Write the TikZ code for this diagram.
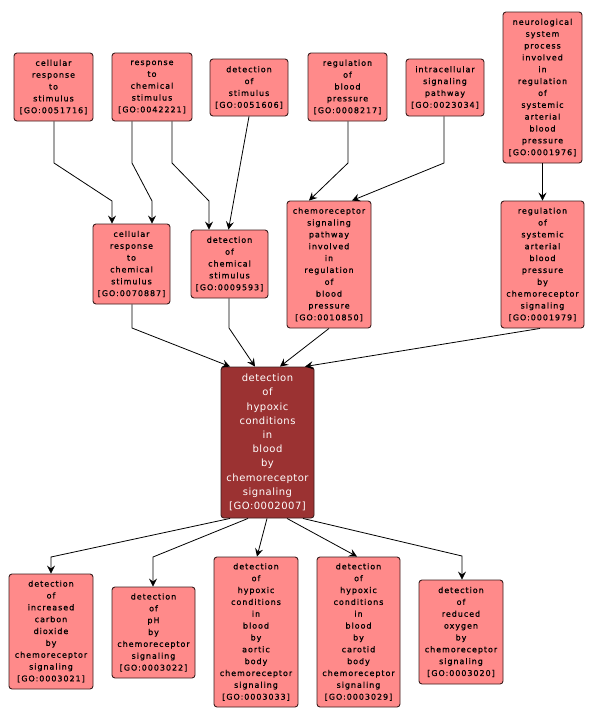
\documentclass[tikz,border=0pt]{standalone}
\usepackage{fontspec}
\usetikzlibrary{arrows.meta}
\newfontfamily\boxfont[LetterSpace=12,FakeBold=0.8]{DejaVu Sans}
\newfontfamily\mainfont[LetterSpace=5]{DejaVu Sans}
\definecolor{gofill}{RGB}{255,138,138}
\definecolor{gomain}{RGB}{155,50,50}
\definecolor{goedge}{RGB}{60,30,30}
\tikzset{
  gobox/.style={draw=goedge, line width=0.9pt, fill=gofill, rounded corners=3pt,
    align=center, inner sep=0pt, text=black,
    font={\boxfont\fontsize{8}{11.85}\selectfont}},
  gomainbox/.style={draw=goedge, line width=0.9pt, fill=gomain, rounded corners=3pt,
    align=center, inner sep=0pt, text=white,
    font={\mainfont\fontsize{10}{14.2}\selectfont}},
  arr/.style={draw=black, line width=0.8pt, -{Stealth[length=8pt,width=8pt,inset=3pt]}}
}
\begin{document}
\begin{tikzpicture}[x=1pt,y=-1pt]
\useasboundingbox[fill=white] (0,0) rectangle (594,720);
% top row
\node[gobox, minimum width=79pt, minimum height=68pt] (A) at (53.5,87) {cellular\\response\\to\\stimulus\\{[GO:0051716]}};
\node[gobox, minimum width=80pt, minimum height=68pt] (B) at (152,87) {response\\to\\chemical\\stimulus\\{[GO:0042221]}};
\node[gobox, minimum width=78pt, minimum height=57pt] (C) at (249,87.5) {detection\\of\\stimulus\\{[GO:0051606]}};
\node[gobox, minimum width=79pt, minimum height=68pt] (D) at (347.5,87) {regulation\\of\\blood\\pressure\\{[GO:0008217]}};
\node[gobox, minimum width=78pt, minimum height=57pt] (E) at (445,87.5) {intracellular\\signaling\\pathway\\{[GO:0023034]}};
\node[gobox, minimum width=79pt, minimum height=151pt] (F) at (542.5,87.5) {neurological\\system\\process\\involved\\in\\regulation\\of\\systemic\\arterial\\blood\\pressure\\{[GO:0001976]}};
% second row
\node[gobox, minimum width=77pt, minimum height=80pt] (G) at (131.5,264) {cellular\\response\\to\\chemical\\stimulus\\{[GO:0070887]}};
\node[gobox, minimum width=77pt, minimum height=68pt] (H) at (229.5,264) {detection\\of\\chemical\\stimulus\\{[GO:0009593]}};
\node[gobox, minimum width=84pt, minimum height=127pt] (I) at (329,264.5) {chemoreceptor\\signaling\\pathway\\involved\\in\\regulation\\of\\blood\\pressure\\{[GO:0010850]}};
\node[gobox, minimum width=83pt, minimum height=127pt] (J) at (542.5,264.5) {regulation\\of\\systemic\\arterial\\blood\\pressure\\by\\chemoreceptor\\signaling\\{[GO:0001979]}};
% main
\node[gomainbox, minimum width=93pt, minimum height=151pt] (M) at (267.5,442.5) {detection\\of\\hypoxic\\conditions\\in\\blood\\by\\chemoreceptor\\signaling\\{[GO:0002007]}};
% bottom row
\node[gobox, minimum width=84pt, minimum height=115pt] (N) at (51,631.5) {detection\\of\\increased\\carbon\\dioxide\\by\\chemoreceptor\\signaling\\{[GO:0003021]}};
\node[gobox, minimum width=83pt, minimum height=91pt] (O) at (153.5,632.5) {detection\\of\\pH\\by\\chemoreceptor\\signaling\\{[GO:0003022]}};
\node[gobox, minimum width=84pt, minimum height=150pt] (P) at (256,632) {detection\\of\\hypoxic\\conditions\\in\\blood\\by\\aortic\\body\\chemoreceptor\\signaling\\{[GO:0003033]}};
\node[gobox, minimum width=83pt, minimum height=150pt] (Q) at (358.5,632) {detection\\of\\hypoxic\\conditions\\in\\blood\\by\\carotid\\body\\chemoreceptor\\signaling\\{[GO:0003029]}};
\node[gobox, minimum width=84pt, minimum height=104pt] (R) at (461,632) {detection\\of\\reduced\\oxygen\\by\\chemoreceptor\\signaling\\{[GO:0003020]}};
% edges top -> second
\draw[arr] ([xshift=0.5pt]A.south) -- (54,163) -- (112,201) -- ([xshift=-19.5pt]G.north);
\draw[arr] ([xshift=-20pt]B.south) -- (132,163) -- (152,201) -- ([xshift=20.5pt]G.north);
\draw[arr] ([xshift=20pt]B.south) -- (172,163) -- (209,201) -- ([xshift=-20.5pt]H.north);
\draw[arr] ([xshift=0pt]C.south) -- ([xshift=-1pt]H.north);
\draw[arr] ([xshift=0.5pt]D.south) -- (348,163) -- ([xshift=-20pt]I.north);
\draw[arr] ([xshift=-1pt]E.south) -- (444,163) -- ([xshift=23pt]I.north);
\draw[arr] (F.south) -- (J.north);
% second -> main
\draw[arr] ([xshift=0.5pt]G.south) -- (132,328) -- ([xshift=-37.5pt]M.north);
\draw[arr] ([xshift=-0.5pt]H.south) -- (229,328) -- ([xshift=-12.5pt]M.north);
\draw[arr] (I.south) -- ([xshift=12.5pt]M.north);
\draw[arr] ([xshift=-2.5pt]J.south) -- ([xshift=37.5pt]M.north);
% main -> bottom
\draw[arr] ([xshift=-37.5pt]M.south) -- (51,557) -- (N.north);
\draw[arr] ([xshift=-19.5pt]M.south) -- (153,557) -- ([xshift=-0.5pt]O.north);
\draw[arr] ([xshift=-0.5pt]M.south) -- ([xshift=1pt]P.north);
\draw[arr] ([xshift=19.5pt]M.south) -- ([xshift=-1.5pt]Q.north);
\draw[arr] ([xshift=35.5pt]M.south) -- (462,556) -- ([xshift=1pt]R.north);
\end{tikzpicture}
\end{document}
